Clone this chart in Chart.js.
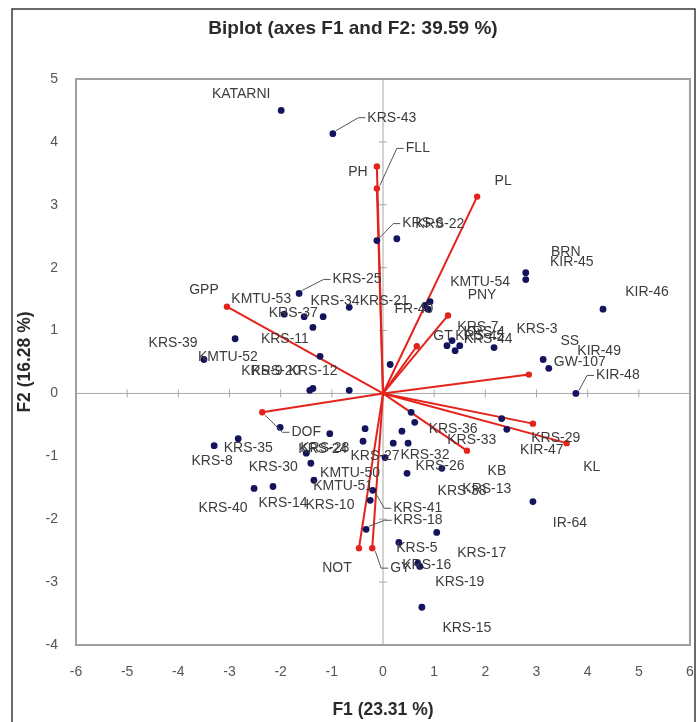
<!DOCTYPE html>
<html><head><meta charset="utf-8">
<script src="https://cdn.jsdelivr.net/npm/chart.js@4/dist/chart.umd.min.js"></script>
<style>html,body{margin:0;padding:0;background:#fff}canvas{display:block}</style>
</head><body>
<canvas id="c" width="700" height="722"></canvas>
<script>
// ---------- data ----------
const chartTitle = 'Biplot (axes F1 and F2: 39.59 %)';
const xTitle = 'F1 (23.31 %)';
const yTitle = 'F2 (16.28 %)';
const xTickValues = [-6,-5,-4,-3,-2,-1,0,1,2,3,4,5,6];
const yTickValues = [-4,-3,-2,-1,0,1,2,3,4,5];

const genoNames = ['KATARNI','KRS-43','KRS-6','KRS-22','KRS-25','KMTU-53','KRS-37','KRS-34','KRS-21','KRS-11',
  'KRS-39','KMTU-52','KRS-12','KRS-9','KRS-20','KRS-2','KRS-42','KMTU-54','FR-40','PNY',
  'KRS-7','KRS-4','KRS-44','KRS-45','KRS-3','BRN','KIR-45','KIR-46','KIR-49','GW-107',
  'KIR-48','KRS-29','KIR-47','IR-64','KRS-36','KRS-33','KRS-23','KRS-35','KRS-8','KRS-40',
  'KRS-14','KRS-30','KRS-24','KRS-10','KRS-28','KRS-31','KRS-27','KMTU-50','KRS-32','KRS-26',
  'KRS-1','KRS-38','KRS-13','KRS-41','KMTU-51','KRS-18','KRS-5','KRS-16','KRS-19','KRS-17','KRS-15'];
const genoF1 = [-1.99,-0.98,-0.12,0.27,-1.64,-1.93,-1.54,-1.17,-0.66,-1.37,
  -2.89,-3.50,-1.23,-1.43,-1.37,-0.66,0.14,0.92,0.82,0.88,
  1.25,1.35,1.41,1.50,2.17,2.79,2.79,4.30,3.13,3.24,
  3.77,2.32,2.42,2.93,0.55,0.62,-2.01,-2.83,-3.30,-2.52,
  -2.15,-1.50,-1.41,-1.35,-1.04,-0.35,-0.39,0.04,0.37,0.49,
  0.20,0.47,1.15,-0.20,-0.25,-0.33,0.31,0.68,0.72,1.05,0.76];
const genoF2 = [4.50,4.13,2.43,2.46,1.59,1.26,1.22,1.22,1.37,1.05,
  0.87,0.54,0.59,0.05,0.08,0.05,0.46,1.46,1.40,1.34,
  0.76,0.84,0.68,0.76,0.73,1.92,1.81,1.34,0.54,0.40,
  0.00,-0.40,-0.57,-1.72,-0.30,-0.46,-0.54,-0.72,-0.83,-1.51,
  -1.48,-0.95,-1.11,-1.38,-0.64,-0.56,-0.76,-1.02,-0.60,-0.79,
  -0.79,-1.27,-1.19,-1.54,-1.70,-2.16,-2.37,-2.70,-2.75,-2.21,-3.40];

const varNames = ['GPP','PH','FLL','PL','GT','','SS','','KL','KB','DOF','NOT','GY'];
const varF1 = [-3.05,-0.12,-0.12,1.84,1.27,0.66,2.85,2.93,3.59,1.64,-2.36,-0.47,-0.21];
const varF2 = [1.38,3.61,3.26,3.13,1.24,0.75,0.30,-0.48,-0.79,-0.91,-0.30,-2.46,-2.46];

// ---------- label placement (pixel offsets from the mark), kept apart from data ----------
const genoLabelOffset = [[-40,-16],[59,-16],[46,-17],[43,-15],[58,-14],[-23,-15],[-11,-4],[12,-16],[35,-6],[-28,12],
  [-62,4],[24,-2],[-7,15],[-48,-19],[-37,-17],null,null,[50,-19],[-11,4],[54,-14],
  [31,-19],[32,-8],[33,-12],[20,-10],[43,-18],[40,-21],[46,-17],[44,-17],[56,-8],[31,-6],
  [42,-18],[54,20],[35,21],[37,22],[42,17],[57,18],null,[10,9],[-2,15],[-31,20],
  [10,17],[-33,14],[12,-14],[16,25],[-5,14],null,[12,15],[-35,16],[23,24],[32,23],
  null,[55,18],[45,21],[45,18],[-27,-14],[52,-9],[18,6],[9,2],[40,16],[45,21],[45,21]];
const genoLeader = new Set(['KRS-43','KRS-6','KRS-25','KIR-48','KRS-41','KRS-18']);
const varLabelOffset = [[-23,-17],[-19,6],[41,-40],[26,-15],[-5,21],null,[41,-33],null,[25,24],[30,20],[44,20],[-22,20],[28,20]];
const varLeader = new Set(['FLL','DOF','GY']);

// ---------- styles ----------
const FONT = '"Liberation Sans", Arial, sans-serif';
const RED = '#e3231c';
const NAVY = '#14145e';
const TXT = '#3c3c3c';

const datasets = [{
  label: 'Observations',
  data: genoF1.map((x, i) => ({x: x, y: genoF2[i]})),
  showLine: false,
  pointRadius: 3.4,
  pointBackgroundColor: NAVY,
  pointBorderWidth: 0,
  borderColor: NAVY
}];
varNames.forEach((n, i) => {
  datasets.push({
    label: n || ('v' + i),
    data: [{x: 0, y: 0}, {x: varF1[i], y: varF2[i]}],
    showLine: true,
    borderColor: RED,
    borderWidth: 2,
    pointRadius: [0, 3.2],
    pointBackgroundColor: RED,
    pointBorderWidth: 0
  });
});

const decor = {
  id: 'decor',
  beforeDatasetsDraw(chart) {
    const {ctx, chartArea: a, scales: {x, y}} = chart;
    ctx.save();
    ctx.strokeStyle = '#a8a8a8';
    ctx.lineWidth = 1;
    const x0 = x.getPixelForValue(0), y0 = y.getPixelForValue(0);
    ctx.beginPath();
    ctx.moveTo(a.left, y0); ctx.lineTo(a.right, y0);
    ctx.moveTo(x0, a.top); ctx.lineTo(x0, a.bottom);
    xTickValues.forEach(v => { const p = x.getPixelForValue(v); ctx.moveTo(p, y0 - 4); ctx.lineTo(p, y0 + 4); });
    yTickValues.forEach(v => { const p = y.getPixelForValue(v); ctx.moveTo(x0 - 4, p); ctx.lineTo(x0 + 4, p); });
    ctx.stroke();
    ctx.strokeStyle = '#a0a0a0';
    ctx.lineWidth = 2;
    ctx.strokeRect(a.left, a.top, a.right - a.left, a.bottom - a.top);
    ctx.restore();
  },
  afterDatasetsDraw(chart) {
    const {ctx, chartArea: a, scales: {x, y}} = chart;
    ctx.save();
    ctx.font = '14px ' + FONT;
    ctx.textAlign = 'center';
    ctx.textBaseline = 'middle';
    const drawLabel = (name, px, py, off, leader) => {
      if (!off || !name) return;
      const lx = px + off[0], ly = py + off[1];
      if (leader) {
        const w = ctx.measureText(name).width;
        const side = off[0] >= 0 ? -1 : 1;
        const ex = lx + side * (w / 2 + 2);
        const mx = ex + side * 7;
        ctx.strokeStyle = '#555';
        ctx.lineWidth = 1;
        ctx.beginPath();
        ctx.moveTo(px - side * 3, py + (ly < py ? -3 : 3));
        ctx.lineTo(mx, ly);
        ctx.lineTo(ex, ly);
        ctx.stroke();
      }
      ctx.fillStyle = TXT;
      ctx.fillText(name, lx, ly);
    };
    genoNames.forEach((n, i) => {
      drawLabel(n, x.getPixelForValue(genoF1[i]), y.getPixelForValue(genoF2[i]), genoLabelOffset[i], genoLeader.has(n));
    });
    varNames.forEach((n, i) => {
      drawLabel(n, x.getPixelForValue(varF1[i]), y.getPixelForValue(varF2[i]), varLabelOffset[i], varLeader.has(n));
    });
    ctx.fillStyle = '#2a2a2a';
    ctx.font = 'bold 19px ' + FONT;
    ctx.fillText(chartTitle, 353, 29);
    ctx.font = 'bold 17.5px ' + FONT;
    ctx.fillText(xTitle, (a.left + a.right) / 2, 710);
    ctx.save();
    ctx.translate(25, (a.top + a.bottom) / 2);
    ctx.rotate(-Math.PI / 2);
    ctx.fillText(yTitle, 0, 0);
    ctx.restore();
    ctx.strokeStyle = '#3a3a3a';
    ctx.lineWidth = 1.5;
    ctx.strokeRect(12, 9, 683, 740);
    ctx.restore();
  }
};

new Chart(document.getElementById('c'), {
  type: 'scatter',
  data: {datasets},
  options: {
    responsive: false,
    animation: false,
    devicePixelRatio: 1,
    layout: {padding: {top: 79, right: 10, bottom: 0, left: 0}},
    plugins: {legend: {display: false}, tooltip: {enabled: false}, title: {display: false}},
    scales: {
      x: {
        type: 'linear', min: -6, max: 6,
        afterBuildTicks: s => { s.ticks = xTickValues.map(v => ({value: v})); },
        afterFit: s => { s.height = 77; s.paddingLeft = 0; s.paddingRight = 0; },
        ticks: {font: {size: 14, family: FONT}, color: '#555', padding: 19},
        grid: {display: false, drawTicks: false},
        border: {display: false}
      },
      y: {
        type: 'linear', min: -4, max: 5,
        afterBuildTicks: s => { s.ticks = yTickValues.map(v => ({value: v})); },
        afterFit: s => { s.width = 76; s.paddingTop = 0; s.paddingBottom = 0; },
        ticks: {font: {size: 14, family: FONT}, color: '#555', padding: 18},
        grid: {display: false, drawTicks: false},
        border: {display: false}
      }
    }
  },
  plugins: [decor]
});
</script>
</body></html>
